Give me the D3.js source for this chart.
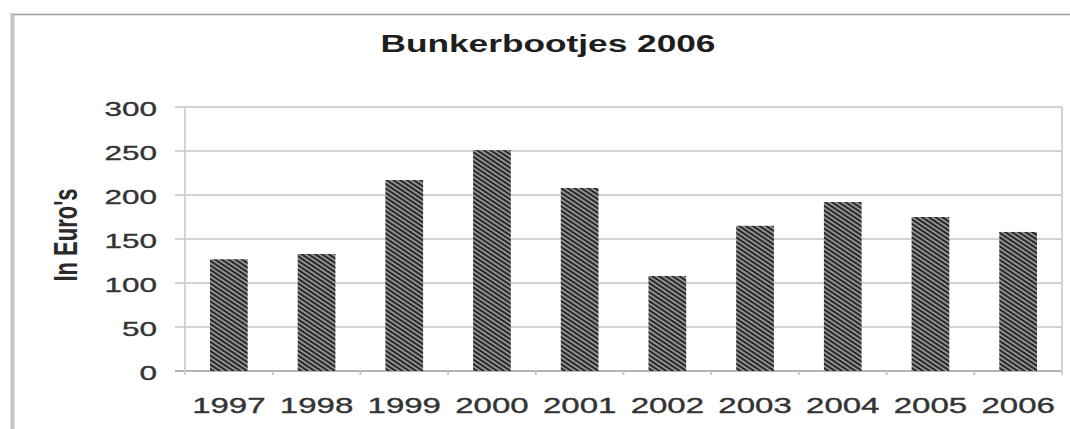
<!DOCTYPE html>
<html>
<head>
<meta charset="utf-8">
<script src="https://cdn.jsdelivr.net/npm/d3@7"></script>
<style>
  body { margin: 0; background: #fff; }
  text { font-family: "Liberation Sans", Arial, sans-serif; }
</style>
</head>
<body>
<div id="chart"></div>
<script>
// Data
var years = ["1997", "1998", "1999", "2000", "2001", "2002", "2003", "2004", "2005", "2006"];
var amounts = [127, 133, 217, 251, 208, 108, 165, 192, 175, 158];
var yTicks = [0, 50, 100, 150, 200, 250, 300];

var svgWidth = 1070;
var svgHeight = 429;

// The original picture is stretched sideways, text gets widened by this much
var stretch = 1.5;

var plot = { left: 185, right: 1062, top: 107, bottom: 371 };

var svg = d3.select("#chart")
  .append("svg")
  .attr("width", svgWidth)
  .attr("height", svgHeight);

var defs = svg.append("defs");

// Diagonal hatch for the bars (flattened like the rest of the picture)
var pattern = defs.append("pattern")
  .attr("id", "hatch")
  .attr("patternUnits", "userSpaceOnUse")
  .attr("width", 3.75)
  .attr("height", 3.75)
  .attr("patternTransform", "rotate(-56.3)");

pattern.append("rect")
  .attr("width", 3.75)
  .attr("height", 3.75)
  .attr("fill", "#929292");

pattern.append("line")
  .attr("x1", 0.95).attr("y1", 0)
  .attr("x2", 0.95).attr("y2", 3.75)
  .attr("stroke", "#262626")
  .attr("stroke-width", 1.9);

// widen a text to match the stretched picture
function widen(sel) {
  sel.attr("lengthAdjust", "spacingAndGlyphs")
    .attr("textLength", function() { return this.getComputedTextLength() * stretch; });
}

// Outer frame (top and left edge visible)
svg.append("line")
  .attr("x1", 12).attr("y1", 14.5)
  .attr("x2", svgWidth).attr("y2", 14.5)
  .attr("stroke", "#9a9a9a")
  .attr("stroke-width", 1.5);

svg.append("line")
  .attr("x1", 12.5).attr("y1", 13)
  .attr("x2", 12.5).attr("y2", svgHeight)
  .attr("stroke", "#c4c4c4")
  .attr("stroke-width", 4);

// Scales
var xScale = d3.scaleBand()
  .domain(years)
  .range([plot.left, plot.right])
  .paddingInner(0.57)
  .paddingOuter(0.285);

var yScale = d3.scaleLinear()
  .domain([0, 300])
  .range([plot.bottom, plot.top]);

// Gridlines with a short stub left of the plot
svg.selectAll(".grid")
  .data(yTicks)
  .enter()
  .append("line")
  .attr("class", "grid")
  .attr("x1", plot.left - 10)
  .attr("x2", plot.right)
  .attr("y1", d => yScale(d))
  .attr("y2", d => yScale(d))
  .attr("stroke", d => d === 0 ? "#b4b4b4" : "#d2d2d2")
  .attr("stroke-width", 1.8);

// Plot area side borders
svg.selectAll(".side")
  .data([plot.left, plot.right])
  .enter()
  .append("line")
  .attr("class", "side")
  .attr("x1", d => d).attr("x2", d => d)
  .attr("y1", plot.top).attr("y2", plot.bottom + 4)
  .attr("stroke", "#d0d0d0")
  .attr("stroke-width", 1.8);

// Small tick marks between categories
var step = xScale.step();
svg.selectAll(".xtick")
  .data(years.slice(1))
  .enter()
  .append("line")
  .attr("class", "xtick")
  .attr("x1", d => xScale(d) - xScale.paddingInner() * step / 2)
  .attr("x2", d => xScale(d) - xScale.paddingInner() * step / 2)
  .attr("y1", plot.bottom)
  .attr("y2", plot.bottom + 4)
  .attr("stroke", "#c4c4c4")
  .attr("stroke-width", 1.8);

// Bars
svg.selectAll(".bar")
  .data(amounts)
  .enter()
  .append("rect")
  .attr("class", "bar")
  .attr("x", (d, i) => xScale(years[i]))
  .attr("y", d => yScale(d))
  .attr("width", xScale.bandwidth())
  .attr("height", d => plot.bottom - yScale(d))
  .attr("fill", "url(#hatch)");

// Y axis labels
var leftAxis = d3.axisLeft(yScale)
  .tickValues(yTicks)
  .tickSize(0)
  .tickPadding(28);

var yAxis = svg.append("g")
  .attr("transform", `translate(${plot.left}, 0)`)
  .call(leftAxis);

yAxis.select(".domain").remove();
yAxis.selectAll("text")
  .attr("font-size", 21)
  .attr("font-family", "Liberation Sans, Arial, sans-serif")
  .attr("fill", "#333")
  .attr("stroke", "#333")
  .attr("stroke-width", 0.35)
  .attr("dy", "0.4em")
  .call(widen);

// X axis labels
var bottomAxis = d3.axisBottom(xScale)
  .tickSize(0)
  .tickPadding(26);

var xAxis = svg.append("g")
  .attr("transform", `translate(0, ${plot.bottom})`)
  .call(bottomAxis);

xAxis.select(".domain").remove();
xAxis.selectAll("text")
  .attr("font-size", 22)
  .attr("font-family", "Liberation Sans, Arial, sans-serif")
  .attr("fill", "#333")
  .attr("stroke", "#333")
  .attr("stroke-width", 0.35)
  .call(widen);

// Title
svg.append("text")
  .attr("x", 548)
  .attr("y", 52)
  .attr("text-anchor", "middle")
  .attr("font-size", 23.5)
  .attr("font-weight", "bold")
  .attr("fill", "#1e1e1e")
  .text("Bunkerbootjes 2006")
  .call(widen);

// Y axis title, glyphs thickened sideways like the picture
svg.append("text")
  .attr("transform", `translate(77, 235) rotate(-90) scale(1, ${stretch})`)
  .attr("text-anchor", "middle")
  .attr("font-size", 22)
  .attr("font-weight", "bold")
  .attr("fill", "#2a2a2a")
  .text("In Euro's");
</script>
</body>
</html>
